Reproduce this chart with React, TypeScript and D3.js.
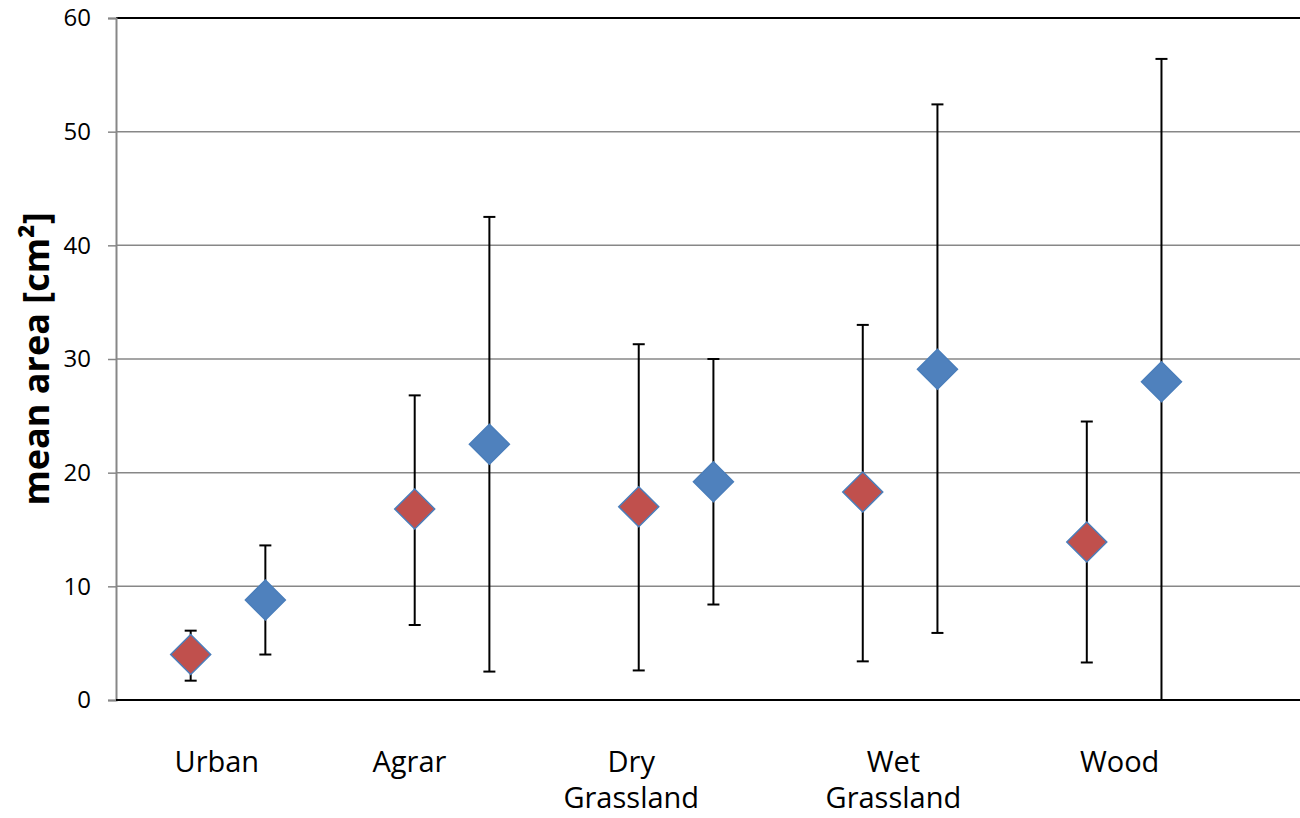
import React, { useEffect, useRef } from 'react';
import * as d3 from 'd3';

// land use classes
const categories = [['Urban'], ['Agrar'], ['Dry', 'Grassland'], ['Wet', 'Grassland'], ['Wood']];
// x anchor of each category label (in category units)
const labelPos = [0.45, 1.31, 2.3, 3.47, 4.48];

// red series
const redMean = [4.0, 16.8, 17.0, 18.3, 13.9];
const redHi = [6.1, 26.8, 31.3, 33.0, 24.5];
const redLo = [1.7, 6.6, 2.6, 3.4, 3.3];

// blue series
const blueMean = [8.8, 22.5, 19.2, 29.1, 28.0];
const blueHi = [13.6, 42.5, 30.0, 52.4, 56.4];
const blueLo = [4.0, 2.5, 8.4, 5.9, 0];

const yTicks = [0, 10, 20, 30, 40, 50, 60];

const W = 1300;
const H = 818;
const left = 116;
const right = 1300;
const top = 18;
const bottom = 700;

export default function App() {
  const ref = useRef<SVGSVGElement>(null);

  useEffect(() => {
    const svg = d3.select(ref.current);
    svg.selectAll('*').remove();

    const x = d3.scaleLinear().domain([0, 5.285]).range([left, right]);
    const y = d3.scaleLinear().domain([0, 60]).range([bottom, top]);
    const font = 'Open Sans, Liberation Sans, sans-serif';

    // grid lines
    svg.append('g')
      .selectAll('line')
      .data(yTicks.filter(t => t > 0 && t < 60))
      .join('line')
      .attr('x1', left).attr('x2', right)
      .attr('y1', d => y(d)).attr('y2', d => y(d))
      .attr('stroke', '#878787').attr('stroke-width', 1.5);

    // top border
    svg.append('line')
      .attr('x1', left).attr('x2', right)
      .attr('y1', y(60)).attr('y2', y(60))
      .attr('stroke', '#000').attr('stroke-width', 2);

    // y axis
    const yAxis = d3.axisLeft(y).tickValues(yTicks).tickSize(8).tickPadding(6);
    const ga = svg.append('g').attr('transform', `translate(${left},0)`).call(yAxis);
    ga.select('.domain').attr('stroke', '#878787').attr('stroke-width', 2);
    ga.selectAll('.tick line').attr('stroke', '#878787').attr('stroke-width', 1.5);
    ga.selectAll('.tick text')
      .attr('font-family', font).attr('font-size', 24).attr('fill', '#000')
      .attr('x', -25);

    // axis title
    svg.append('text')
      .attr('transform', `translate(49,${(top + bottom) / 2}) rotate(-90)`)
      .attr('text-anchor', 'middle')
      .attr('font-family', font).attr('font-weight', 'bold').attr('font-size', 36)
      .text('mean area [cm²]');

    const series = [
      { mean: redMean, hi: redHi, lo: redLo, off: 1 / 3, fill: '#C0504D' },
      { mean: blueMean, hi: blueHi, lo: blueLo, off: 2 / 3, fill: '#4F81BD' },
    ];

    series.forEach(s => {
      const g = svg.append('g');
      const pts = s.mean.map((m, i) => ({ cx: x(i + s.off), m, hi: s.hi[i], lo: s.lo[i] }));
      // error bars
      g.selectAll('line.bar').data(pts).join('line')
        .attr('x1', d => d.cx).attr('x2', d => d.cx)
        .attr('y1', d => y(d.hi)).attr('y2', d => y(d.lo))
        .attr('stroke', '#000').attr('stroke-width', 2);
      g.selectAll('line.capHi').data(pts).join('line')
        .attr('x1', d => d.cx - 6).attr('x2', d => d.cx + 6)
        .attr('y1', d => y(d.hi)).attr('y2', d => y(d.hi))
        .attr('stroke', '#000').attr('stroke-width', 2);
      g.selectAll('line.capLo').data(pts.filter(d => d.lo > 0)).join('line')
        .attr('x1', d => d.cx - 6).attr('x2', d => d.cx + 6)
        .attr('y1', d => y(d.lo)).attr('y2', d => y(d.lo))
        .attr('stroke', '#000').attr('stroke-width', 2);
      // markers
      const sym = d3.symbol().type(d3.symbolSquare).size(800);
      g.selectAll('path').data(pts).join('path')
        .attr('d', sym)
        .attr('transform', d => `translate(${d.cx},${y(d.m)}) rotate(45)`)
        .attr('fill', s.fill)
        .attr('stroke', '#4A7EBB').attr('stroke-width', 1.5);
    });

    // bottom axis line
    svg.append('line')
      .attr('x1', left).attr('x2', right)
      .attr('y1', y(0)).attr('y2', y(0))
      .attr('stroke', '#000').attr('stroke-width', 2);

    // category labels
    const lab = svg.append('g');
    categories.forEach((c, i) => {
      const t = lab.append('text')
        .attr('text-anchor', 'middle')
        .attr('font-family', font).attr('font-size', 29);
      c.forEach((line, k) => {
        t.append('tspan').attr('x', x(labelPos[i])).attr('y', 772 + k * 36).text(line);
      });
    });
  }, []);

  return (
    <svg
      ref={ref}
      width={W}
      height={H}
      viewBox={`0 0 ${W} ${H}`}
      style={{ position: 'fixed', left: 0, top: 0, background: '#fff' }}
    />
  );
}
